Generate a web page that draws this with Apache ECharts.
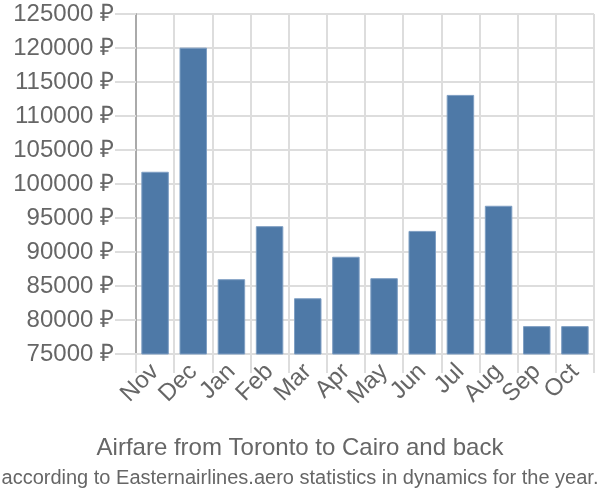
<!DOCTYPE html>
<html><head><meta charset="utf-8">
<script src="https://cdn.jsdelivr.net/npm/echarts@6/dist/echarts.min.js"></script>
<style>html,body{margin:0;padding:0;background:#fff}#c{width:600px;height:500px}</style>
</head><body><div id="c"></div>
<script>
const categories = ["Nov","Dec","Jan","Feb","Mar","Apr","May","Jun","Jul","Aug","Sep","Oct"];
const prices = [101800, 120050, 86000, 93800, 83200, 89300, 86150, 93100, 113100, 96800, 79100, 79100];
const yMin = 75000, yMax = 125000, yStep = 5000;
const titleText = "Airfare from Toronto to Cairo and back";
const subtitleText = "according to Easternairlines.aero statistics in dynamics for the year.";

const chart = echarts.init(document.getElementById('c'));
chart.setOption({
  animation: false,
  title: [
    {text: titleText, left: 'center', top: 431, textStyle: {fontFamily: 'Liberation Sans', fontSize: 24, fontWeight: 'normal', color: '#666'}},
    {text: subtitleText, left: 'center', top: 463, textStyle: {fontFamily: 'Liberation Sans', fontSize: 20, fontWeight: 'normal', color: '#666'}}
  ],
  grid: {left: 136, right: 6, top: 14, bottom: 146, containLabel: false},
  xAxis: {
    type: 'category', data: categories, boundaryGap: true,
    axisLine: {show: true, lineStyle: {color: '#ddd', width: 2}},
    axisTick: {show: true, length: 19, lineStyle: {color: '#ddd', width: 2}},
    splitLine: {show: true, lineStyle: {color: '#ddd', width: 2}},
    axisLabel: {rotate: 45, margin: 14, fontFamily: 'Liberation Sans', fontSize: 24, color: '#666', interval: 0}
  },
  yAxis: {
    type: 'value', min: yMin, max: yMax, interval: yStep,
    axisLine: {show: true, lineStyle: {color: '#aaa', width: 2}},
    axisTick: {show: true, length: 21, lineStyle: {color: '#ddd', width: 2}},
    splitLine: {show: true, lineStyle: {color: '#ddd', width: 2}},
    axisLabel: {margin: 22, fontFamily: 'Liberation Sans', fontSize: 24, color: '#666', formatter: v => v + ' ₽'}
  },
  series: [{
    type: 'bar', data: prices, barCategoryGap: '28%',
    itemStyle: {color: '#4e79a7', borderColor: '#7f9fc3', borderWidth: 1}
  }]
});
</script></body></html>
